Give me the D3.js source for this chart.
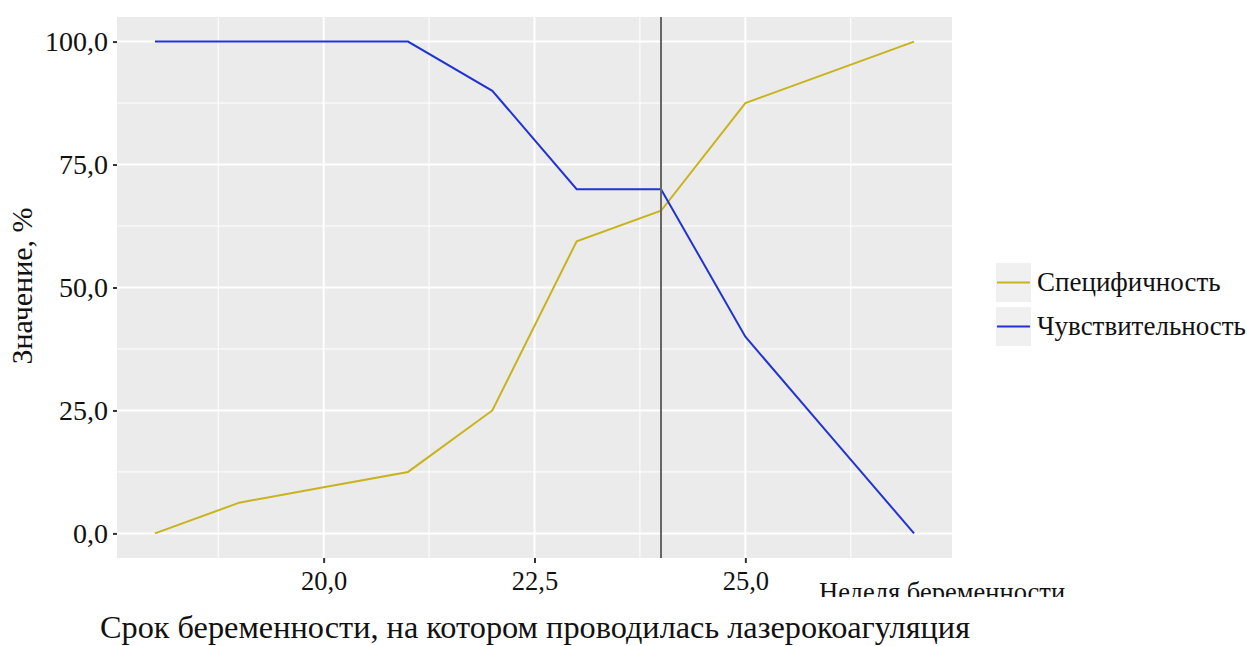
<!DOCTYPE html>
<html lang="ru">
<head>
<meta charset="UTF-8">
<title>Чувствительность и специфичность</title>
<script src="https://cdn.jsdelivr.net/npm/d3@7"></script>
<style>
  body { margin: 0; background: #fff; }
  svg text { font-family: "Liberation Serif", "Times New Roman", Tinos, serif; }
</style>
</head>
<body>
<svg id="chart" width="1247" height="646"></svg>
<script>
// weeks of pregnancy
const weeks = [18, 19, 20, 21, 22, 23, 24, 25, 26, 27];
// specificity, %
const specificity = [0, 6.25, 9.4, 12.5, 25, 59.4, 65.6, 87.5, 93.75, 100];
// sensitivity, %
const sensitivity = [100, 100, 100, 100, 90, 70, 70, 40, 20, 0];
const cutoffWeek = 24;

const xTicks = [20, 22.5, 25];
const xMinor = [18.75, 21.25, 23.75, 26.25];
const yTicks = [0, 25, 50, 75, 100];
const yMinor = [12.5, 37.5, 62.5, 87.5];

const seriesNames = ["Специфичность", "Чувствительность"];
const seriesColors = ["#c9b31c", "#2233d4"];

const panel = { left: 117, right: 952, top: 17, bottom: 558 };
const serif = '"Liberation Serif", "Times New Roman", Tinos, serif';

const svg = d3.select("#chart");
const x = d3.scaleLinear().domain([17.55, 27.45]).range([panel.left, panel.right]);
const y = d3.scaleLinear().domain([-5, 105]).range([panel.bottom, panel.top]);
const fmt = v => d3.format(".1f")(v).replace(".", ",");

svg.append("rect")
  .attr("x", panel.left).attr("y", panel.top)
  .attr("width", panel.right - panel.left).attr("height", panel.bottom - panel.top)
  .attr("fill", "#ebebeb");

const grid = svg.append("g");
grid.selectAll(".ymin").data(yMinor).enter().append("line")
  .attr("x1", panel.left).attr("x2", panel.right)
  .attr("y1", d => y(d)).attr("y2", d => y(d))
  .attr("stroke", "#fff").attr("stroke-width", 1);
grid.selectAll(".xmin").data(xMinor).enter().append("line")
  .attr("y1", panel.top).attr("y2", panel.bottom)
  .attr("x1", d => x(d)).attr("x2", d => x(d))
  .attr("stroke", "#fff").attr("stroke-width", 1);
grid.selectAll(".ymaj").data(yTicks).enter().append("line")
  .attr("x1", panel.left).attr("x2", panel.right)
  .attr("y1", d => y(d)).attr("y2", d => y(d))
  .attr("stroke", "#fff").attr("stroke-width", 2);
grid.selectAll(".xmaj").data(xTicks).enter().append("line")
  .attr("y1", panel.top).attr("y2", panel.bottom)
  .attr("x1", d => x(d)).attr("x2", d => x(d))
  .attr("stroke", "#fff").attr("stroke-width", 2);

// axes
const yAxis = svg.append("g")
  .attr("transform", `translate(${panel.left},0)`)
  .call(d3.axisLeft(y).tickValues(yTicks).tickFormat(fmt).tickSize(4).tickPadding(5));
const xAxis = svg.append("g")
  .attr("transform", `translate(0,${panel.bottom})`)
  .call(d3.axisBottom(x).tickValues(xTicks).tickFormat(fmt).tickSize(5).tickPadding(8));
[[yAxis, 28], [xAxis, 26.5]].forEach(([a, fs]) => {
  a.attr("font-family", serif);
  a.select(".domain").remove();
  a.selectAll(".tick line").attr("stroke", "#333").attr("stroke-width", 2);
  a.selectAll(".tick text").attr("fill", "#111")
    .attr("font-family", serif).attr("font-size", fs);
});

// lines
const line = d3.line().x((d, i) => x(weeks[i])).y(d => y(d));
[specificity, sensitivity].forEach((vals, k) => {
  svg.append("path").datum(vals)
    .attr("d", line)
    .attr("fill", "none")
    .attr("stroke", seriesColors[k])
    .attr("stroke-width", 2);
});

// cut-off line
svg.append("line")
  .attr("x1", x(cutoffWeek)).attr("x2", x(cutoffWeek))
  .attr("y1", panel.top).attr("y2", panel.bottom)
  .attr("stroke", "#666").attr("stroke-width", 2);

// y title
svg.append("text")
  .attr("transform", "translate(32,286) rotate(-90)")
  .attr("text-anchor", "middle")
  .attr("font-family", serif).attr("font-size", 30).attr("fill", "#111")
  .text("Значение, %");

// small x label, lower part clipped as in the source figure
svg.append("clipPath").attr("id", "clipLab")
  .append("rect").attr("x", 800).attr("y", 560).attr("width", 300).attr("height", 37);
svg.append("text")
  .attr("clip-path", "url(#clipLab)")
  .attr("x", 819).attr("y", 601)
  .attr("font-family", serif).attr("font-size", 26.5).attr("fill", "#111")
  .text("Неделя беременности");

// main x title
svg.append("text")
  .attr("x", 100).attr("y", 638)
  .attr("font-family", serif).attr("font-size", 32.3).attr("fill", "#111")
  .text("Срок беременности, на котором проводилась лазерокоагуляция");

// legend
const leg = svg.append("g").attr("transform", "translate(996,263)");
seriesNames.forEach((name, i) => {
  const g = leg.append("g").attr("transform", `translate(0,${i * 44})`);
  g.append("rect").attr("width", 35).attr("height", 39).attr("fill", "#f0f0f0");
  g.append("line").attr("x1", 1).attr("x2", 34).attr("y1", 19.5).attr("y2", 19.5)
    .attr("stroke", seriesColors[i]).attr("stroke-width", 2);
  g.append("text").attr("x", 41).attr("y", 28)
    .attr("font-family", serif).attr("font-size", 27).attr("fill", "#111").text(name);
});
</script>
</body>
</html>
